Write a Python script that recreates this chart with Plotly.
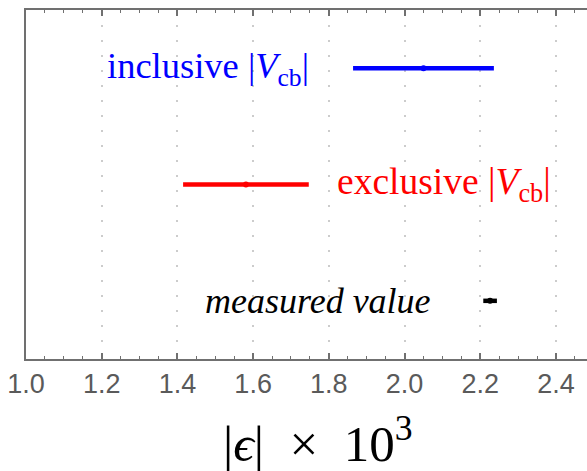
import plotly.graph_objects as go

# ---- data ----
labels = ["measured value", "exclusive |<i>V</i><sub>cb</sub>|", "inclusive |<i>V</i><sub>cb</sub>|"]
rows = [1, 2, 3]
centers = [2.226, 1.581, 2.050]
errors = [0.018, 0.166, 0.186]
colors = ["#000000", "#ff0000", "#0000ff"]
xticks = [1.0, 1.2, 1.4, 1.6, 1.8, 2.0, 2.2, 2.4]

fig = go.Figure()
for c, e, r, col in zip(centers, errors, rows, colors):
    fig.add_trace(go.Scatter(
        x=[c], y=[r], mode="markers",
        marker=dict(color=col, size=6),
        error_x=dict(type="data", array=[e], color=col, thickness=4.5, width=0),
        showlegend=False, hoverinfo="skip",
    ))

# labels
fig.add_annotation(x=centers[2] - errors[2] - 0.11, y=rows[2], text=labels[2],
                   xanchor="right", yanchor="middle", showarrow=False,
                   font=dict(family="Liberation Serif", size=36.5, color=colors[2]))
fig.add_annotation(x=centers[1] + errors[1] + 0.068, y=rows[1], text=labels[1],
                   xanchor="left", yanchor="middle", showarrow=False,
                   font=dict(family="Liberation Serif", size=37.5, color=colors[1]))
fig.add_annotation(x=centers[0] - errors[0] - 0.133, y=rows[0], text="<i>" + labels[0] + "</i>",
                   xanchor="right", yanchor="middle", showarrow=False,
                   font=dict(family="Liberation Serif", size=36, color=colors[0]))

# axis title
fig.add_annotation(x=1.771, y=-0.232, xref="x", yref="paper",
                   text="|<i>ϵ</i>|\u2002×\u200210<sup>3</sup>", showarrow=False,
                   xanchor="center", yanchor="middle",
                   font=dict(family="Liberation Serif", size=51, color="#000000"))

axcol = "#707070"
fig.update_xaxes(
    range=[1.0, 2.482], tickvals=xticks, ticktext=[f"{v:.1f}" for v in xticks],
    showline=True, linecolor=axcol, linewidth=2, mirror="ticks",
    ticks="inside", ticklen=6, tickwidth=1.5, tickcolor=axcol,
    minor=dict(dtick=0.05, ticks="inside", ticklen=3, tickwidth=1.2, tickcolor=axcol, showgrid=False),
    showgrid=True, gridcolor="#cccccc", gridwidth=2, griddash="2px,13px",
    tickfont=dict(family="Liberation Sans", size=27, color="#5a5a5a"),
    zeroline=False,
)
fig.update_yaxes(
    range=[0.5, 3.5], showticklabels=False, ticks="", showgrid=False,
    showline=True, linecolor=axcol, linewidth=2, mirror=False, zeroline=False,
)
fig.update_layout(
    width=587, height=471,
    margin=dict(l=26, r=0, t=10, b=112),
    plot_bgcolor="white", paper_bgcolor="white",
)
fig.write_html("out.html")
